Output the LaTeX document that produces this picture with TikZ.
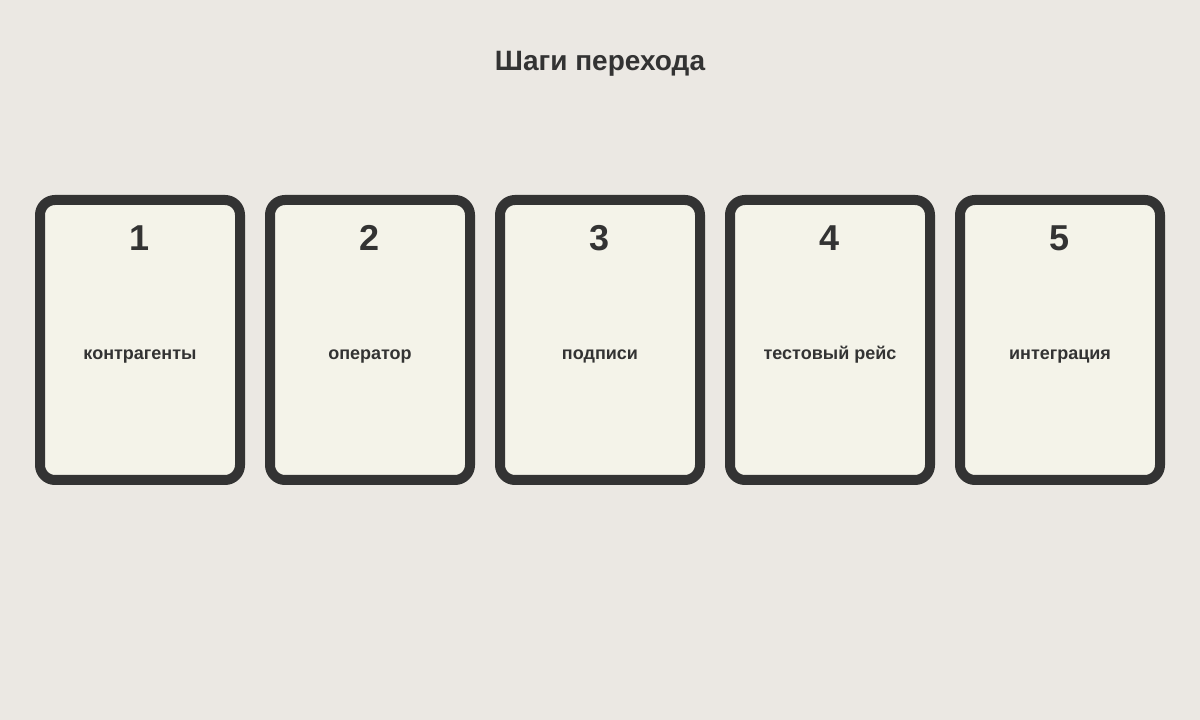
\documentclass[tikz,border=0pt]{standalone}
\usepackage{fontspec}
\setmainfont{Liberation Sans}
\usetikzlibrary{calc}
\definecolor{bgcol}{HTML}{EBE8E3}
\definecolor{cardfill}{HTML}{F4F3E9}
\definecolor{ink}{HTML}{333333}

\begin{document}
\begin{tikzpicture}[x=1pt,y=1pt,
    card/.style={draw=ink,fill=cardfill,line width=10pt,rounded corners=15pt,
      minimum width=200pt,minimum height=280pt,inner sep=0pt},
    stepnum/.style={text=ink,font=\fontsize{36}{40}\selectfont\bfseries,inner sep=0pt},
    steplabel/.style={text=ink,font=\fontsize{18}{21}\selectfont\bfseries,inner sep=0pt,anchor=base}]
  % Constants
  \pgfmathsetmacro\gap{230}
  % Boundary
  \path[use as bounding box,fill=bgcol] (0,0) rectangle (1200,720);
  % Title
  \node[text=ink,font=\fontsize{28}{32}\selectfont\bfseries] (title) at (600,656) {Шаги перехода};
  % Cards
  \foreach \i/\txt in {1/контрагенты,2/оператор,3/подписи,4/тестовый рейс,5/интеграция}{
    \node[card] (card\i) at ({140+\gap*(\i-1)},380) {};
    \node[stepnum] (num\i) at ($(card\i.north)+(0,-43)$) {\i};
    \node[steplabel] (lab\i) at ($(card\i.center)+(0,-20)$) {\txt};
  }
\end{tikzpicture}
\end{document}
